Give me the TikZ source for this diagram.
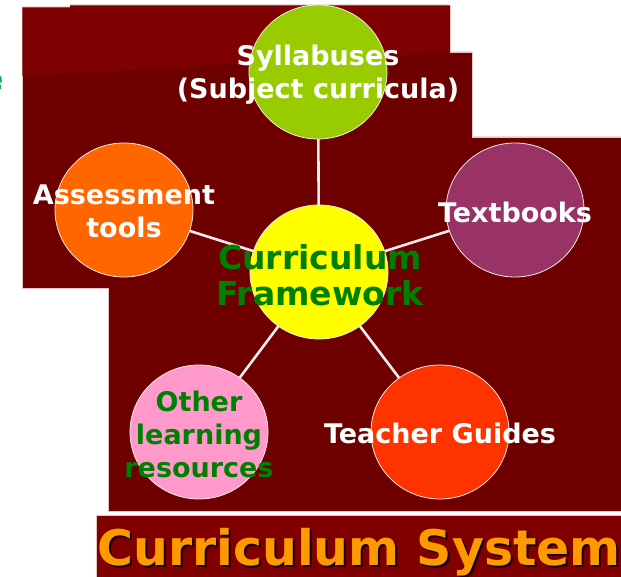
\documentclass[tikz,border=0pt]{standalone}
\usepackage{fontspec}
\setmainfont{DejaVu Sans}
\usetikzlibrary{shapes.geometric}
\definecolor{mdark}{HTML}{6E0000}
\definecolor{mlight}{HTML}{7E0000}
\definecolor{mband}{HTML}{800000}
\definecolor{edgepink}{HTML}{E6C4C4}
\definecolor{cgreen}{HTML}{99CC00}
\definecolor{corange}{HTML}{FF6600}
\definecolor{cpurple}{HTML}{993366}
\definecolor{cyellow}{HTML}{FFFF00}
\definecolor{cpink}{HTML}{FF99CC}
\definecolor{cred}{HTML}{FF3300}
\definecolor{tgreen}{HTML}{008000}
\definecolor{lgreen}{HTML}{00B050}
\definecolor{borange}{HTML}{FF9900}
\definecolor{linewhite}{HTML}{F4ECEC}
\tikzset{
  bubble/.style={ellipse, draw=linewhite, line width=0.8pt, minimum width=138pt, minimum height=134pt, inner sep=0pt, outer sep=0pt},
  conn/.style={draw=linewhite, line width=2.6pt},
  wtext/.style={text=white, font=\fontsize{27}{33}\selectfont\bfseries, align=center, inner sep=0pt},
  gtext/.style={text=tgreen, font=\fontsize{27}{33}\selectfont\bfseries, align=center, inner sep=0pt},
  ctext/.style={text=tgreen, font=\fontsize{33}{36}\selectfont\bfseries, align=center, inner sep=0pt},
  btext/.style={font=\fontsize{49}{55}\selectfont\bfseries, anchor=base west, inner sep=0pt}
}
\begin{document}
\begin{tikzpicture}[x=1pt,y=-1pt]
\useasboundingbox (0,0) rectangle (621,577);
% background panels
\fill[white] (0,0) rectangle (621,577);
\draw[fill=mdark, draw=edgepink, line width=0.6pt] (22,7) -- (70,7) -- (70,5) -- (450,5) -- (450,52) -- (472,52) -- (472,137) -- (625,137) -- (625,511) -- (108,511) -- (108,288) -- (22,288) -- cycle;
\fill[mlight] (22.3,7.3) -- (70,7.3) -- (70,5.3) -- (449.7,5.3) -- (449.7,52) -- (22.3,76) -- cycle;
\draw[fill=mband, draw=edgepink, line width=0.6pt] (96,515) rectangle (625,580);
% partial green letter at left edge
\node[text=lgreen, font=\fontsize{33}{36}\selectfont\bfseries, anchor=base east, inner sep=0pt] (cut) at (4,91) {e};
% circles
\node[bubble, fill=cyellow] (c) at (319,272) {};
\node[bubble, fill=cgreen] (syl) at (318,72) {};
\node[bubble, fill=corange] (ass) at (124,210) {};
\node[bubble, fill=cpurple] (txt) at (515,210) {};
\node[bubble, fill=cpink] (oth) at (199,432) {};
\node[bubble, fill=cred] (tea) at (440,432) {};
% connectors
\draw[conn] (c) -- (syl);
\draw[conn] (c) -- (ass);
\draw[conn] (c) -- (txt);
\draw[conn] (c) -- (oth);
\draw[conn] (c) -- (tea);
% labels
\node[wtext] (sylt) at (318,75) {Syllabuses\\(Subject curricula)};
\node[wtext] (asst) at (124,211) {Assessment\\tools};
\node[wtext] (txtt) at (515,212) {Textbooks};
\node[ctext] (ct) at (320,275) {Curriculum\\Framework};
\node[gtext] (otht) at (199,434) {Other\\learning\\resources};
\node[wtext] (teat) at (440,433) {Teacher Guides};
% banner title
\node[btext, text=black!85!mband] (bshadow) at (99,567) {Curriculum System};
\node[btext, text=borange] (btitle) at (97,565) {Curriculum System};
\end{tikzpicture}
\end{document}
